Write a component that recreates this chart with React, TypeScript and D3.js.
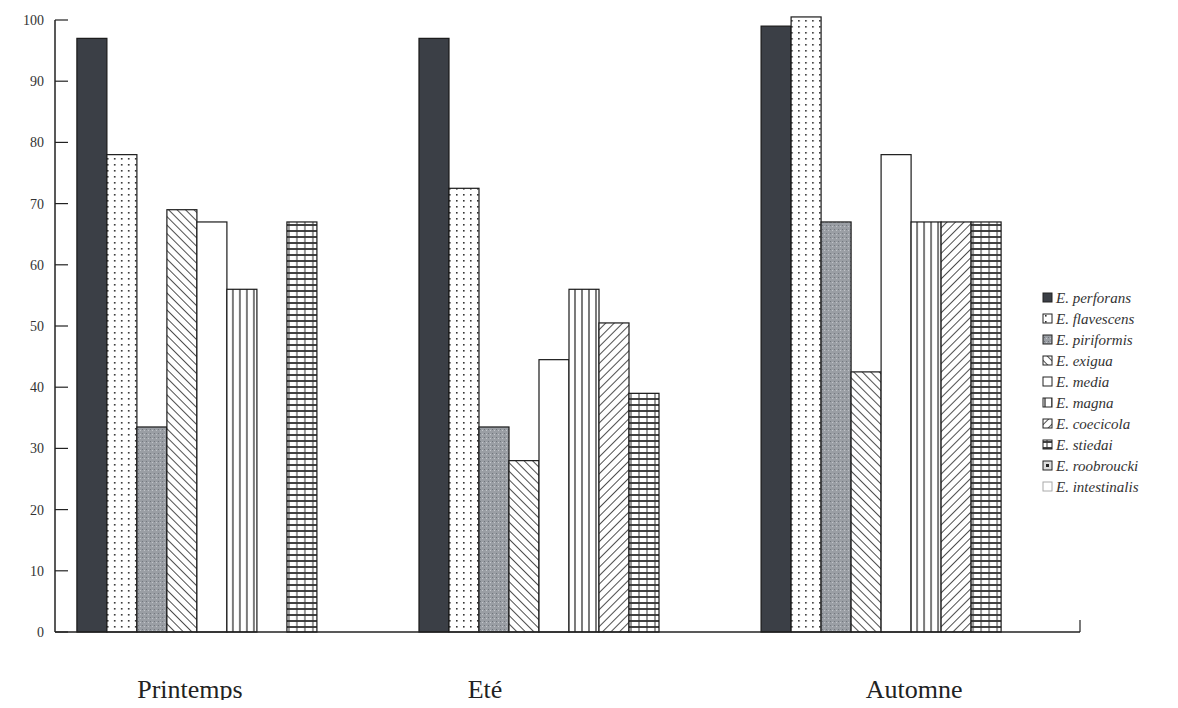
// Grouped bar chart: prevalence of Eimeria species by season (Printemps, Eté, Automne)

import React, { useEffect, useRef } from "react"
import * as d3 from "d3"

const seasons = ["Printemps", "Eté", "Automne"]

const species = [
  "E. perforans",
  "E. flavescens",
  "E. piriformis",
  "E. exigua",
  "E. media",
  "E. magna",
  "E. coecicola",
  "E. stiedai",
  "E. roobroucki",
  "E. intestinalis",
]

// one value per species, in the order above
const printemps = [97, 78, 33.5, 69, 67, 56, 0, 67, 0, 0]
const ete = [97, 72.5, 33.5, 28, 44.5, 56, 50.5, 39, 0, 0]
const automne = [99, 100.5, 67, 42.5, 78, 67, 67, 67, 0, 0]

const yTicks = [0, 10, 20, 30, 40, 50, 60, 70, 80, 90, 100]

const fills = [
  "#3b3f46",
  "url(#dots)",
  "url(#speckle)",
  "url(#diagDown)",
  "#ffffff",
  "url(#vlines)",
  "url(#diagUp)",
  "url(#grid)",
  "url(#boxed)",
  "#ffffff",
]

function App() {
  const ref = useRef<SVGSVGElement>(null)

  useEffect(() => {
    const svg = d3.select(ref.current)
    svg.selectAll("*").remove()

    const values = [printemps, ete, automne]
    const data = seasons.map((s, i) => ({ season: s, values: values[i] }))

    const left = 55
    const right = 1080
    const top = 20
    const bottom = 632

    const defs = svg.append("defs")

    const dots = defs.append("pattern").attr("id", "dots")
      .attr("patternUnits", "userSpaceOnUse").attr("width", 7).attr("height", 6)
    dots.append("rect").attr("width", 7).attr("height", 6).attr("fill", "#fff")
    dots.append("rect").attr("x", 2).attr("y", 2).attr("width", 1.6).attr("height", 1.6).attr("fill", "#333")

    const speck = defs.append("pattern").attr("id", "speckle")
      .attr("patternUnits", "userSpaceOnUse").attr("width", 4).attr("height", 4)
    speck.append("rect").attr("width", 4).attr("height", 4).attr("fill", "#9a9ea4")
    speck.append("rect").attr("x", 1).attr("y", 1).attr("width", 1).attr("height", 1).attr("fill", "#6f747b")
    speck.append("rect").attr("x", 3).attr("y", 2).attr("width", 1).attr("height", 1).attr("fill", "#c4c7cc")

    // "\\" hatching
    const dd = defs.append("pattern").attr("id", "diagDown")
      .attr("patternUnits", "userSpaceOnUse").attr("width", 6).attr("height", 6)
      .attr("patternTransform", "rotate(-45)")
    dd.append("rect").attr("width", 6).attr("height", 6).attr("fill", "#fff")
    dd.append("line").attr("x1", 0).attr("y1", 0).attr("x2", 0).attr("y2", 6)
      .attr("stroke", "#222").attr("stroke-width", 1.6)

    // "/" hatching
    const du = defs.append("pattern").attr("id", "diagUp")
      .attr("patternUnits", "userSpaceOnUse").attr("width", 6).attr("height", 6)
      .attr("patternTransform", "rotate(45)")
    du.append("rect").attr("width", 6).attr("height", 6).attr("fill", "#fff")
    du.append("line").attr("x1", 0).attr("y1", 0).attr("x2", 0).attr("y2", 6)
      .attr("stroke", "#222").attr("stroke-width", 1.6)

    const vl = defs.append("pattern").attr("id", "vlines")
      .attr("patternUnits", "userSpaceOnUse").attr("width", 7).attr("height", 10)
    vl.append("rect").attr("width", 7).attr("height", 10).attr("fill", "#fff")
    vl.append("line").attr("x1", 2).attr("y1", 0).attr("x2", 2).attr("y2", 10)
      .attr("stroke", "#333").attr("stroke-width", 1.3)

    const gr = defs.append("pattern").attr("id", "grid")
      .attr("patternUnits", "userSpaceOnUse").attr("width", 8).attr("height", 6)
    gr.append("rect").attr("width", 8).attr("height", 6).attr("fill", "#fff")
    gr.append("line").attr("x1", 0).attr("y1", 3).attr("x2", 8).attr("y2", 3)
      .attr("stroke", "#111").attr("stroke-width", 1.6)
    gr.append("line").attr("x1", 4).attr("y1", 0).attr("x2", 4).attr("y2", 6)
      .attr("stroke", "#333").attr("stroke-width", 1)

    const bx = defs.append("pattern").attr("id", "boxed")
      .attr("patternUnits", "objectBoundingBox").attr("width", 1).attr("height", 1)
    bx.append("rect").attr("width", 9).attr("height", 9).attr("fill", "#ddd")
    bx.append("rect").attr("x", 3).attr("y", 3).attr("width", 3).attr("height", 3).attr("fill", "#222")

    const x0 = d3.scaleBand()
      .domain(seasons)
      .range([left, right + 3])
      .paddingInner(0.123)
      .paddingOuter(0.064)

    const x1 = d3.scaleBand()
      .domain(species)
      .range([0, x0.bandwidth()])

    const y = d3.scaleLinear().domain([0, 100]).range([bottom, top])

    // bars
    const groups = svg.selectAll(".season")
      .data(data)
      .enter()
      .append("g")
      .attr("transform", d => `translate(${x0(d.season)},0)`)

    groups.selectAll("rect")
      .data(d => d.values.map((v, i) => ({ name: species[i], value: v, i })).filter(d => d.value > 0))
      .enter()
      .append("rect")
      .attr("x", d => x1(d.name))
      .attr("y", d => y(d.value))
      .attr("width", x1.bandwidth())
      .attr("height", d => bottom - y(d.value))
      .attr("fill", d => fills[d.i])
      .attr("stroke", "#1a1a1a")
      .attr("stroke-width", 1.2)

    // y axis, ticks pointing inward
    svg.append("line")
      .attr("x1", left).attr("x2", left).attr("y1", y(100)).attr("y2", bottom)
      .attr("stroke", "#222").attr("stroke-width", 1.5)
    svg.selectAll(".ytick")
      .data(yTicks)
      .enter()
      .append("line")
      .attr("x1", left).attr("x2", left + 13)
      .attr("y1", d => y(d)).attr("y2", d => y(d))
      .attr("stroke", "#222").attr("stroke-width", 1.2)
    svg.selectAll(".ylab")
      .data(yTicks)
      .enter()
      .append("text")
      .attr("x", left - 11)
      .attr("y", d => y(d))
      .attr("dy", "0.35em")
      .attr("text-anchor", "end")
      .attr("font-family", "'Liberation Serif', serif")
      .attr("font-size", 14)
      .attr("fill", "#333")
      .text(d => d)

    // x axis
    svg.append("line")
      .attr("x1", left).attr("x2", right).attr("y1", bottom).attr("y2", bottom)
      .attr("stroke", "#222").attr("stroke-width", 1.5)
    svg.append("line")
      .attr("x1", right).attr("x2", right).attr("y1", bottom).attr("y2", bottom - 12)
      .attr("stroke", "#222").attr("stroke-width", 1.2)

    // season labels (hand-placed like the original print)
    const labelShift = [-37, -84, 3]
    svg.selectAll(".slab")
      .data(seasons)
      .enter()
      .append("text")
      .attr("x", (d, i) => x0(d) + x0.bandwidth() / 2 + labelShift[i])
      .attr("y", 698)
      .attr("text-anchor", "middle")
      .attr("font-family", "'Liberation Serif', serif")
      .attr("font-size", 26)
      .attr("fill", "#222")
      .text(d => d)

    // legend
    const legend = svg.append("g").attr("transform", "translate(1043,298)")
    const items = legend.selectAll("g")
      .data(species)
      .enter()
      .append("g")
      .attr("transform", (d, i) => `translate(0,${i * 21})`)
    items.append("rect")
      .attr("x", 0).attr("y", -5).attr("width", 9).attr("height", 9)
      .attr("fill", (d, i) => fills[i])
      .attr("stroke", (d, i) => (i === 9 ? "#aaa" : "#222"))
      .attr("stroke-width", 1)
    items.append("text")
      .attr("x", 13)
      .attr("y", 0)
      .attr("dy", "0.35em")
      .attr("font-family", "'Liberation Serif', serif")
      .attr("font-style", "italic")
      .attr("font-size", 15)
      .attr("fill", "#333")
      .text(d => d)
  }, [])

  return <svg ref={ref} width={1170} height={708} style={{ display: "block", margin: "-8px" }}></svg>
}

export default App
